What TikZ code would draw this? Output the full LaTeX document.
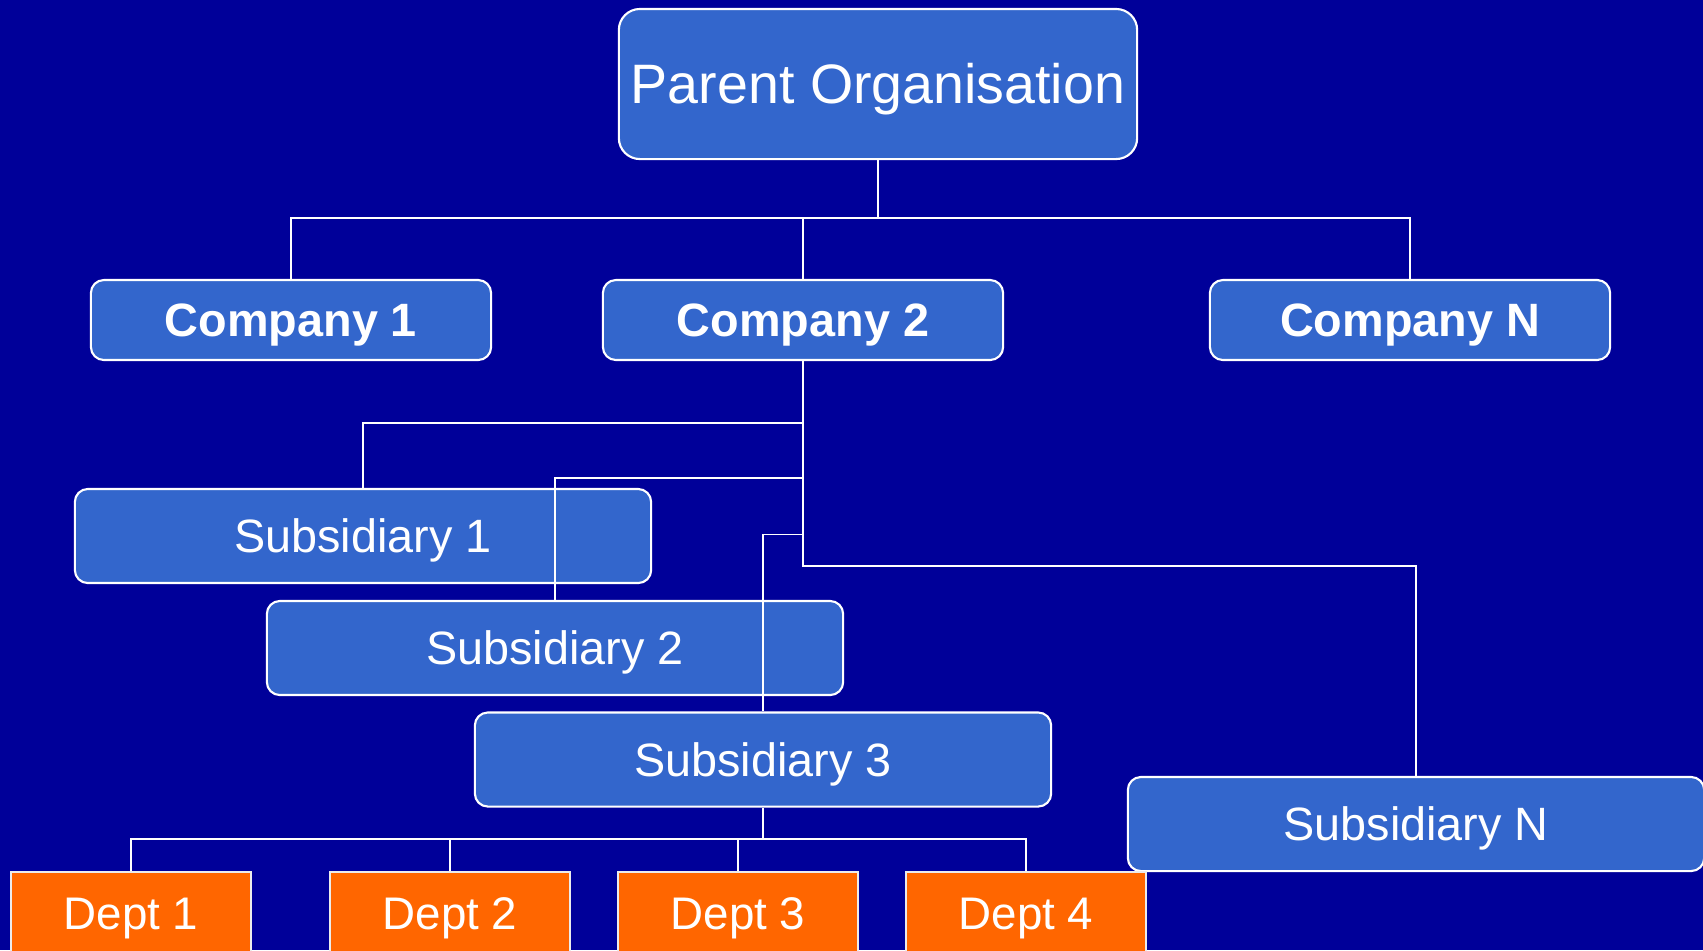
\documentclass[tikz,border=0pt]{standalone}
\usepackage{fontspec}
\setmainfont{Liberation Sans}
\usetikzlibrary{positioning}
\definecolor{slideblue}{RGB}{0,0,153}
\definecolor{boxblue}{RGB}{51,102,204}
\definecolor{deptorange}{RGB}{255,102,0}
\tikzset{
	x=0.01cm, y=-0.01cm, % one unit is one pixel of the slide, y going down
	every node/.style={text=white, inner sep=0pt}, % white text, no padding
	orgbox/.style={draw=white, fill=boxblue, line width=0.6pt, rounded corners=0.13cm}, % blue boxes
	parentbox/.style={orgbox, rounded corners=0.21cm, minimum width=5.18cm, minimum height=1.5cm,
		text height=11.3pt, text depth=0pt, font=\fontsize{15.8}{19}\selectfont},
	companybox/.style={orgbox, minimum width=4cm, minimum height=0.8cm,
		text height=9.5pt, text depth=0pt, font=\fontsize{13.3}{16}\selectfont\bfseries},
	subbox/.style={orgbox, minimum width=5.76cm, minimum height=0.94cm,
		text height=9.5pt, text depth=0pt, font=\fontsize{13.3}{16}\selectfont},
	deptbox/.style={draw=white!85!gray, fill=deptorange, line width=0.6pt, minimum width=2.4cm, minimum height=0.82cm,
		text height=9.3pt, text depth=0pt, font=\fontsize{13}{16}\selectfont}, % orange boxes
	link/.style={draw=white, line width=0.5pt} % connectors
}

\begin{document}
\begin{tikzpicture}
	\useasboundingbox (0,0) rectangle (1703,950);
	\clip (0,0) rectangle (1703,950);
	\fill[slideblue] (0,0) rectangle (1703,950);

	\node[parentbox] (parent) at (878,84) {Parent Organisation};

	\node[companybox] (comp1) at (291,320) {Company 1};
	\node[companybox] (comp2) at (803,320) {Company 2};
	\node[companybox] (compN) at (1410,320) {Company N};

	\node[subbox] (sub1) at (363,536) {Subsidiary 1};
	\node[subbox] (sub2) at (555,648) {Subsidiary 2};
	\node[subbox] (sub3) at (763,759.5) {Subsidiary 3};
	\node[subbox] (subN) at (1416,824) {Subsidiary N};

	\node[deptbox] (dept1) at (131,913) {Dept 1};
	\node[deptbox] (dept2) at (450,913) {Dept 2};
	\node[deptbox] (dept3) at (738,913) {Dept 3};
	\node[deptbox] (dept4) at (1026,913) {Dept 4};

	\draw[link] (comp1.north) -- ++(0,-61) -| (parent.south)
				(comp2.north) -- ++(0,-61) -| (parent.south)
				(compN.north) -- ++(0,-61) -| (parent.south)
				(sub1.north) -- ++(0,-65) -| (comp2.south)
				(sub2.north) -- ++(0,-122) -| (comp2.south)
				(sub3.north) -- ++(0,-177) -| (comp2.south)
				(subN.north) -- ++(0,-210) -| (comp2.south)
				(dept1.north) -- ++(0,-32) -| (sub3.south)
				(dept2.north) -- ++(0,-32) -| (sub3.south)
				(dept3.north) -- ++(0,-32) -| (sub3.south)
				(dept4.north) -- ++(0,-32) -| (sub3.south)
				;
\end{tikzpicture}
\end{document}
